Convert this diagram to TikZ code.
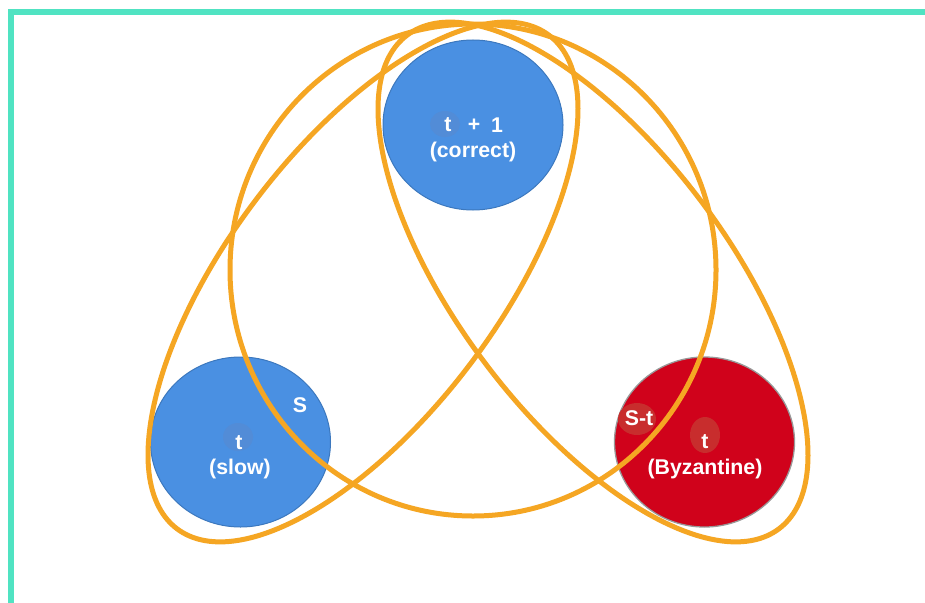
\documentclass[tikz,border=0pt]{standalone}
\usepackage{fontspec}
\setmainfont{Liberation Sans}
\definecolor{teal}{RGB}{80,227,194}
\definecolor{sblue}{RGB}{74,144,226}
\definecolor{sblueedge}{RGB}{60,120,190}
\definecolor{sblob}{RGB}{82,140,215}
\definecolor{sred}{RGB}{208,2,27}
\definecolor{sredblob}{RGB}{200,45,45}
\definecolor{sorange}{RGB}{245,166,35}
\tikzset{
  lbl/.style={text=white, font=\fontsize{21.3}{24}\selectfont\bfseries, inner sep=0pt},
  ring/.style={draw=sorange, line width=5pt},
  bluedisc/.style={fill=sblue, draw=sblueedge, line width=1pt},
  reddisc/.style={fill=sred, draw=gray!80, line width=1.3pt},
}
\begin{document}
\begin{tikzpicture}[x=1pt,y=-1pt]
\useasboundingbox (0,0) rectangle (925,602);
\fill[white] (0,0) rectangle (925,602);
% frame
\draw[teal, line width=6pt] (11,605) -- (11,12) -- (930,12);
% discs
\path[bluedisc] (473,125) ellipse [x radius=90pt, y radius=85pt];
\path[bluedisc] (240.5,442) ellipse [x radius=90pt, y radius=85pt];
\path[reddisc] (704.5,442) ellipse [x radius=90pt, y radius=85pt];
% blobs
\fill[sblob] (445,124) ellipse [x radius=15pt, y radius=13pt];
\fill[sblob] (238,437) ellipse [x radius=15pt, y radius=14pt];
\fill[sredblob] (637,419) ellipse [x radius=19pt, y radius=16pt];
\fill[sredblob] (705,435) ellipse [x radius=15pt, y radius=18pt];
% labels
\node[lbl] (t1) at (448,125) {t};
\node[lbl] (plus) at (474,125) {+};
\node[lbl] (one) at (497,125) {1};
\node[lbl] (correct) at (473,152) {(correct)};
\node[lbl] (ts) at (239,443) {t};
\node[lbl] (slow) at (240,469) {(slow)};
\node[lbl] (S) at (300,405) {S};
\node[lbl] (St) at (639,418) {S-t};
\node[lbl] (tb) at (705,442) {t};
\node[lbl] (byz) at (705,469) {(Byzantine)};
% orange rings
\draw[ring] (473,270) ellipse [x radius=243pt, y radius=246pt];
\draw[ring, rotate around={53:(363,282)}] (363,282) ellipse [x radius=309pt, y radius=135pt];
\draw[ring, rotate around={-53:(593,282)}] (593,282) ellipse [x radius=309pt, y radius=135pt];
\end{tikzpicture}
\end{document}
